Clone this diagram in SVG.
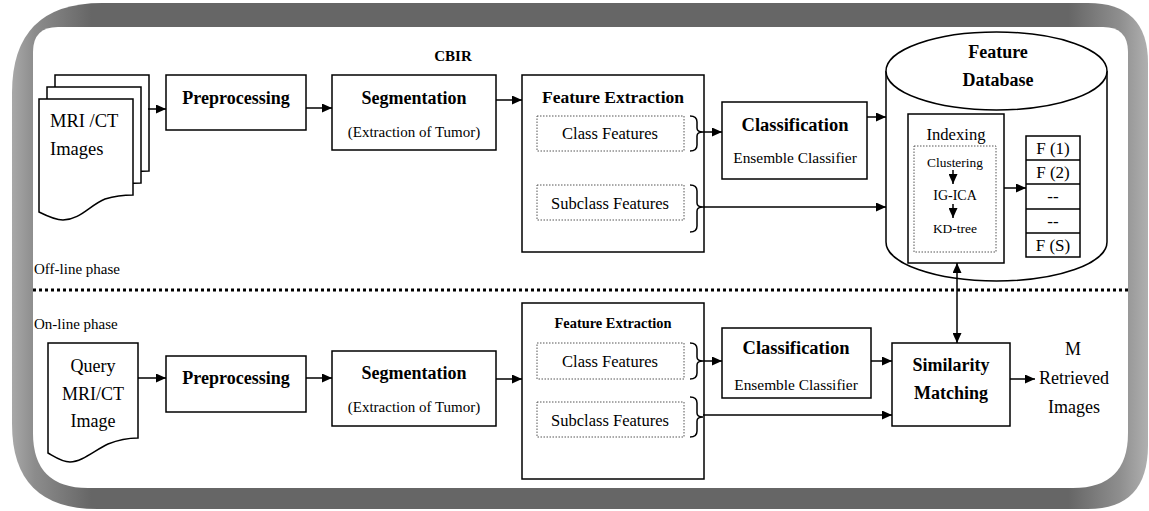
<svg xmlns="http://www.w3.org/2000/svg" width="1149" height="511" viewBox="0 0 1149 511">
  <style>
    .box { fill: #fff; stroke: #000; stroke-width: 1.5; }
    .dot { fill: none; stroke: #555; stroke-width: 1; stroke-dasharray: 1.5 1.5; }
    .line { fill: none; stroke: #000; stroke-width: 1.5; }
    .t { font-family: "Liberation Serif", "Times New Roman", serif; fill: #000; }
    .b { font-weight: bold; }
    .m { text-anchor: middle; }
  </style>
  <defs>
    <marker id="arr" markerUnits="userSpaceOnUse" markerWidth="11" markerHeight="9" refX="10" refY="4.5" orient="auto-start-reverse">
      <path d="M0,0 L10,4.5 L0,9 Z" fill="#000"/>
    </marker>
    <linearGradient id="frameShade" gradientUnits="userSpaceOnUse" x1="12" y1="0" x2="1148" y2="0">
      <stop offset="0" stop-color="#a8a8a8"/>
      <stop offset="0.02" stop-color="#8c8c8c"/>
      <stop offset="0.07" stop-color="#666"/>
      <stop offset="0.93" stop-color="#666"/>
      <stop offset="0.975" stop-color="#8e8e8e"/>
      <stop offset="1" stop-color="#b0b0b0"/>
    </linearGradient>
    <!-- page shape with a wavy bottom edge -->
    <path id="doc" d="M39,99 H133 V195 C125,195 115,196 105,199 C90,205 80,220 63,220 C55,220 47,216 39,212 Z"/>
  </defs>

  <!-- rounded frame -->
  <g id="frame">
    <path d="M102,3 H1088 Q1148,3 1148,63 V445 Q1148,509 1088,509 H97 Q12,509 12,424 V93 Q12,3 102,3 Z" fill="url(#frameShade)"/>
    <path d="M58,27 H1103 Q1128,27 1128,52 V433 Q1128,488 1073,488 H88 Q33,488 33,433 V52 Q33,27 58,27 Z" fill="#fff"/>
  </g>

  <text class="t b m" x="453" y="61" font-size="15">CBIR</text>

  <!-- off-line phase -->
  <g id="mri-images">
    <use href="#doc" transform="translate(16,-24)" class="box"/>
    <use href="#doc" transform="translate(8,-12)" class="box"/>
    <use href="#doc" class="box"/>
    <text class="t" x="50" y="127" font-size="18.5">MRI /CT</text>
    <text class="t" x="50" y="155" font-size="18.5">Images</text>
  </g>

  <g id="preprocessing-1">
    <rect class="box" x="166" y="75" width="140" height="55"/>
    <text class="t b m" x="236" y="104" font-size="18">Preprocessing</text>
  </g>

  <g id="segmentation-1">
    <rect class="box" x="332" y="75" width="164" height="75"/>
    <text class="t b m" x="414" y="104" font-size="18">Segmentation</text>
    <text class="t m" x="414" y="137" font-size="15">(Extraction of Tumor)</text>
  </g>

  <g id="feature-extraction-1">
    <rect class="box" x="522" y="75" width="182" height="177"/>
    <text class="t b m" x="613" y="103" font-size="17.5">Feature Extraction</text>
    <rect class="dot" x="537" y="116" width="147" height="35"/>
    <text class="t m" x="610" y="139" font-size="16.5">Class Features</text>
    <rect class="dot" x="537" y="185" width="147" height="35"/>
    <text class="t m" x="610" y="209" font-size="16.5">Subclass Features</text>
    <path class="line" d="M690,116 Q697,116 697,122 V128 Q697,132 703,132 Q697,132 697,136 V145 Q697,151 690,151"/>
    <path class="line" d="M690,185 Q697,185 697,191 V203 Q697,207 703,207 Q697,207 697,211 V226 Q697,232 690,232"/>
  </g>

  <g id="classification-1">
    <rect class="box" x="722" y="102" width="145" height="77"/>
    <text class="t b m" x="795" y="131" font-size="18.5">Classification</text>
    <text class="t m" x="795" y="163" font-size="15.4">Ensemble Classifier</text>
  </g>

  <g id="feature-database">
    <path class="box" d="M886,71 V242 A110.5,39 0 0 0 1107,242 V71"/>
    <ellipse class="box" cx="996.5" cy="71" rx="110.5" ry="39"/>
    <text class="t b m" x="998" y="58" font-size="18">Feature</text>
    <text class="t b m" x="998" y="86" font-size="18">Database</text>
  </g>

  <g id="indexing">
    <rect class="box" x="908" y="114" width="96" height="149"/>
    <text class="t m" x="956" y="140" font-size="16.6">Indexing</text>
    <rect class="dot" x="914" y="146" width="82" height="106"/>
    <text class="t m" x="955" y="167" font-size="13.4">Clustering</text>
    <line class="line" x1="953" y1="170" x2="953" y2="184" marker-end="url(#arr)"/>
    <text class="t m" x="955" y="200" font-size="14">IG-ICA</text>
    <line class="line" x1="953" y1="204" x2="953" y2="218" marker-end="url(#arr)"/>
    <text class="t m" x="955" y="233" font-size="13.5">KD-tree</text>
  </g>

  <g id="feature-list">
    <rect class="box" x="1026" y="136" width="54" height="121"/>
    <path class="line" d="M1026,160 H1080 M1026,184 H1080 M1026,209 H1080 M1026,233 H1080"/>
    <text class="t m" x="1053" y="154" font-size="17">F (1)</text>
    <text class="t m" x="1053" y="178" font-size="17">F (2)</text>
    <text class="t m" x="1053" y="202" font-size="17">--</text>
    <text class="t m" x="1053" y="227" font-size="17">--</text>
    <text class="t m" x="1053" y="251" font-size="17">F (S)</text>
  </g>

  <text class="t" x="34" y="274" font-size="15">Off-line phase</text>

  <line x1="33" y1="290" x2="1128" y2="290" stroke="#000" stroke-width="3" stroke-dasharray="3 3"/>

  <text class="t" x="34" y="329" font-size="15">On-line phase</text>

  <!-- on-line phase -->
  <g id="query-image">
    <path class="box" d="M48,343 H138 V438 C128,438 118,440 108,444 C95,450 82,462 70,462 C62,462 55,457 48,453 Z"/>
    <text class="t m" x="93" y="372" font-size="18">Query</text>
    <text class="t m" x="93" y="400" font-size="18">MRI/CT</text>
    <text class="t m" x="93" y="427" font-size="18">Image</text>
  </g>

  <g id="preprocessing-2">
    <rect class="box" x="166" y="356" width="140" height="56"/>
    <text class="t b m" x="236" y="384" font-size="18">Preprocessing</text>
  </g>

  <g id="segmentation-2">
    <rect class="box" x="332" y="351" width="164" height="75"/>
    <text class="t b m" x="414" y="379" font-size="18">Segmentation</text>
    <text class="t m" x="414" y="412" font-size="15">(Extraction of Tumor)</text>
  </g>

  <g id="feature-extraction-2">
    <rect class="box" x="522" y="303" width="182" height="176"/>
    <text class="t b m" x="613" y="328" font-size="14.4">Feature Extraction</text>
    <rect class="dot" x="537" y="343" width="147" height="36"/>
    <text class="t m" x="610" y="367" font-size="16.5">Class Features</text>
    <rect class="dot" x="537" y="402" width="147" height="35"/>
    <text class="t m" x="610" y="426" font-size="16.5">Subclass Features</text>
    <path class="line" d="M690,343 Q697,343 697,349 V357 Q697,361 703,361 Q697,361 697,365 V373 Q697,379 690,379"/>
    <path class="line" d="M690,397 Q697,397 697,403 V413 Q697,417 703,417 Q697,417 697,421 V431 Q697,437 690,437"/>
  </g>

  <g id="classification-2">
    <rect class="box" x="722" y="328" width="149" height="70"/>
    <text class="t b m" x="796" y="354" font-size="18.5">Classification</text>
    <text class="t m" x="796" y="390" font-size="15.4">Ensemble Classifier</text>
  </g>

  <g id="similarity-matching">
    <rect class="box" x="892" y="343" width="118" height="83"/>
    <text class="t b m" x="951" y="371" font-size="18">Similarity</text>
    <text class="t b m" x="951" y="399" font-size="18">Matching</text>
  </g>

  <g id="retrieved-images">
    <text class="t m" x="1073" y="355" font-size="18">M</text>
    <text class="t m" x="1074" y="384" font-size="18">Retrieved</text>
    <text class="t m" x="1074" y="413" font-size="18">Images</text>
  </g>

  <!-- connectors -->
  <g id="connectors">
    <line class="line" x1="148" y1="109" x2="166" y2="109" marker-end="url(#arr)"/>
    <line class="line" x1="306" y1="108" x2="332" y2="108" marker-end="url(#arr)"/>
    <line class="line" x1="496" y1="100" x2="522" y2="100" marker-end="url(#arr)"/>
    <line class="line" x1="703" y1="132" x2="722" y2="132" marker-end="url(#arr)"/>
    <line class="line" x1="703" y1="207" x2="886" y2="207" marker-end="url(#arr)"/>
    <line class="line" x1="867" y1="117" x2="886" y2="117" marker-end="url(#arr)"/>
    <line class="line" x1="1004" y1="188" x2="1026" y2="188" marker-end="url(#arr)"/>
    <line class="line" x1="957" y1="263" x2="957" y2="343" marker-start="url(#arr)" marker-end="url(#arr)"/>

    <line class="line" x1="138" y1="378" x2="166" y2="378" marker-end="url(#arr)"/>
    <line class="line" x1="306" y1="378" x2="332" y2="378" marker-end="url(#arr)"/>
    <line class="line" x1="496" y1="379" x2="522" y2="379" marker-end="url(#arr)"/>
    <line class="line" x1="703" y1="361" x2="722" y2="361" marker-end="url(#arr)"/>
    <line class="line" x1="703" y1="415" x2="892" y2="415" marker-end="url(#arr)"/>
    <line class="line" x1="871" y1="361" x2="892" y2="361" marker-end="url(#arr)"/>
    <line class="line" x1="1010" y1="379" x2="1035" y2="379" marker-end="url(#arr)"/>
  </g>
</svg>
